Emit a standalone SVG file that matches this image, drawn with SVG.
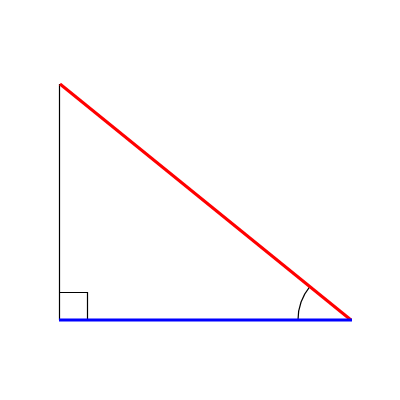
<svg xmlns="http://www.w3.org/2000/svg" width="400" height="400" viewBox="0 0 400 400">
<style>
.thin{stroke:#000;stroke-width:1.2;fill:none}
</style>
<rect width="400" height="400" fill="#fff"/>
<g id="edges">
<line id="side" class="thin" x1="59.5" y1="84" x2="59.5" y2="320"/>
<path id="right-angle" class="thin" d="M59.5,292.5 H87.5 V320"/>
<path id="angle-arc" class="thin" d="M298,320 A53,53 0 0 1 309.8,286.7"/>
<line id="hypotenuse" x1="60" y1="84" x2="351" y2="320" stroke="#f00" stroke-width="3"/>
<line id="base" x1="59" y1="320" x2="352" y2="320" stroke="#00f" stroke-width="3"/>
</g>
</svg>
